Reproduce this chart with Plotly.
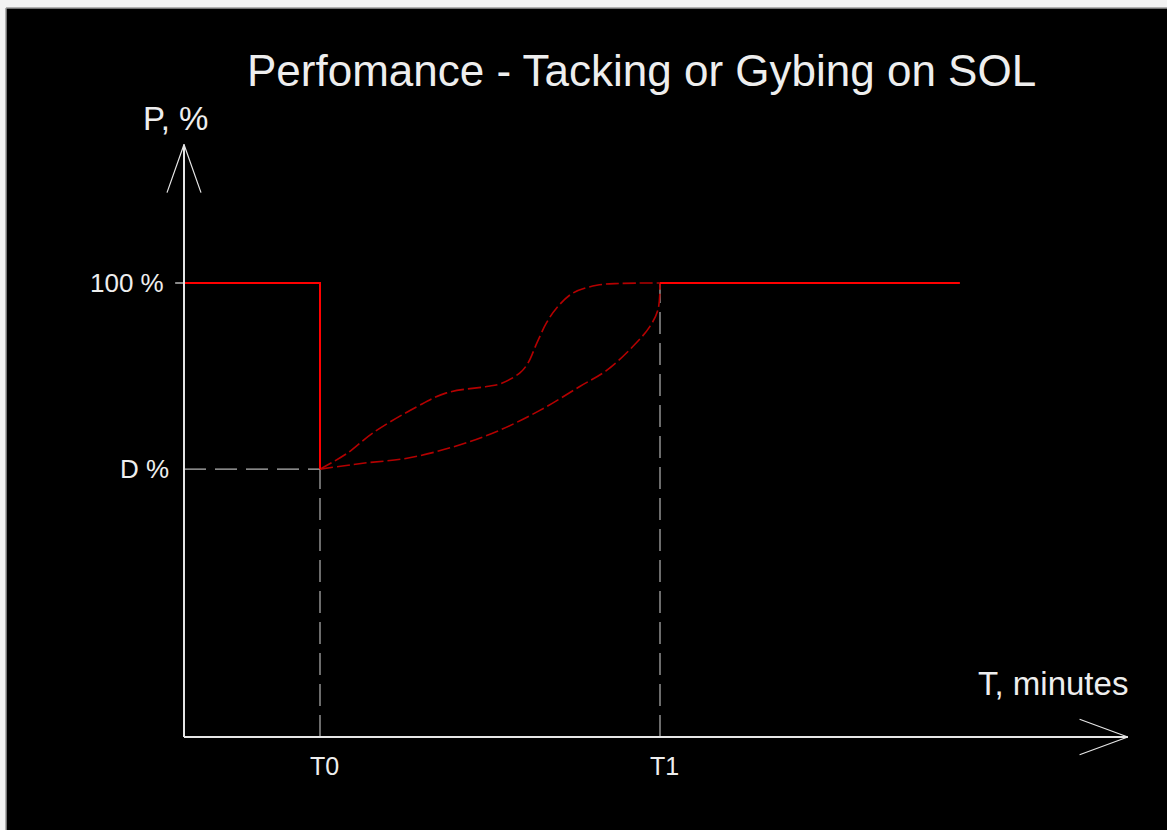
import plotly.graph_objects as go

# ---- data (time in arbitrary minute units, performance in %) ----
T0 = 2.0
T1 = 7.0
T_END = 11.41
P_FULL = 100.0
P_DROP = 59.0

step_x = [0.0, T0, T0]
step_y = [P_FULL, P_FULL, P_DROP]
full_x = [T1, T_END]
full_y = [P_FULL, P_FULL]

upper_x = [2.0, 2.4, 2.78, 3.42, 3.86, 4.45, 4.65, 4.94, 5.06, 5.19, 5.33, 5.48, 5.72, 6.07, 6.41, 7.0]
upper_y = [59, 62.5, 67, 72.7, 75.8, 77.2, 77.8, 80.2, 82.4, 86.8, 91.2, 94.5, 97.8, 99.5, 99.9, 100]

lower_x = [2.0, 2.63, 3.28, 3.96, 4.6, 5.24, 5.82, 6.22, 6.6, 6.85, 6.97, 7.0]
lower_y = [59, 60.3, 61.4, 63.9, 67.3, 72.0, 77.2, 80.8, 86.0, 90.4, 94.1, 100]

x_labels = ["T0", "T1"]
y_labels = ["100 %", "D %"]

X_AXIS_END = 13.88
Y_AXIS_END = 130.5

fig = go.Figure()

AX = "#e6e6e6"
GRAY = "#b4b4b4"

# guide dashed lines
fig.add_trace(go.Scatter(x=[0, T0], y=[P_DROP, P_DROP], mode="lines",
                         line=dict(color=GRAY, width=1.2, dash="22px,9px"), hoverinfo="skip"))
fig.add_trace(go.Scatter(x=[T0, T0], y=[0, P_DROP], mode="lines",
                         line=dict(color=GRAY, width=1.2, dash="22px,9px"), hoverinfo="skip"))
fig.add_trace(go.Scatter(x=[T1, T1], y=[0, P_FULL], mode="lines",
                         line=dict(color=GRAY, width=1.2, dash="22px,9px"), hoverinfo="skip"))

# curves
fig.add_trace(go.Scatter(x=upper_x, y=upper_y, mode="lines",
                         line=dict(color="#b40000", width=1.6, dash="13px,4px", shape="spline"),
                         hoverinfo="skip"))
fig.add_trace(go.Scatter(x=lower_x, y=lower_y, mode="lines",
                         line=dict(color="#b40000", width=1.6, dash="13px,4px", shape="spline"),
                         hoverinfo="skip"))

# solid red performance
fig.add_trace(go.Scatter(x=step_x, y=step_y, mode="lines",
                         line=dict(color="#ff0000", width=2), hoverinfo="skip"))
fig.add_trace(go.Scatter(x=full_x, y=full_y, mode="lines",
                         line=dict(color="#ff0000", width=2), hoverinfo="skip"))

# axes with arrows
fig.add_trace(go.Scatter(x=[0, 0], y=[0, Y_AXIS_END], mode="lines",
                         line=dict(color=AX, width=2), hoverinfo="skip"))
fig.add_trace(go.Scatter(x=[-0.25, 0, 0.25], y=[Y_AXIS_END - 10.6, Y_AXIS_END, Y_AXIS_END - 10.6],
                         mode="lines", line=dict(color=AX, width=1.2), hoverinfo="skip"))
fig.add_trace(go.Scatter(x=[0, X_AXIS_END], y=[0, 0], mode="lines",
                         line=dict(color=AX, width=2), hoverinfo="skip"))
fig.add_trace(go.Scatter(x=[X_AXIS_END - 0.71, X_AXIS_END, X_AXIS_END - 0.71], y=[3.9, 0, -3.9],
                         mode="lines", line=dict(color=AX, width=1.2), hoverinfo="skip"))
# tick at 100%
fig.add_trace(go.Scatter(x=[-0.13, 0], y=[P_FULL, P_FULL], mode="lines",
                         line=dict(color=AX, width=1.2), hoverinfo="skip"))

FONT = "Liberation Sans, Arial, sans-serif"
TXT = "#eeeeee"
ann = []
ann.append(dict(x=6.73, y=146.9, text="Perfomance - Tacking or Gybing on SOL", showarrow=False,
                font=dict(family=FONT, size=44, color=TXT), xanchor="center", yanchor="middle"))
ann.append(dict(x=-0.12, y=136.3, text="P, %", showarrow=False,
                font=dict(family=FONT, size=33, color=TXT), xanchor="center", yanchor="middle"))
ann.append(dict(x=12.775, y=11.7, text="T, minutes", showarrow=False,
                font=dict(family=FONT, size=33, color=TXT), xanchor="center", yanchor="middle"))
ann.append(dict(x=-0.26, y=P_FULL, text=y_labels[0], showarrow=False,
                font=dict(family=FONT, size=26, color=TXT), xanchor="right", yanchor="middle"))
ann.append(dict(x=-0.19, y=P_DROP, text=y_labels[1], showarrow=False,
                font=dict(family=FONT, size=26, color=TXT), xanchor="right", yanchor="middle"))
for xv, lab in zip([T0, T1], x_labels):
    ann.append(dict(x=xv + 0.06, y=-6.3, text=lab, showarrow=False,
                    font=dict(family=FONT, size=25, color=TXT), xanchor="center", yanchor="middle"))

W, H = 1167, 830
shapes = [
    dict(type="rect", xref="paper", yref="paper", x0=0, x1=1, y0=1 - 8 / H, y1=1,
         fillcolor="#f2f2f2", line=dict(width=0), layer="above"),
    dict(type="rect", xref="paper", yref="paper", x0=0, x1=6 / W, y0=0, y1=1,
         fillcolor="#f2f2f2", line=dict(width=0), layer="above"),
    dict(type="line", xref="paper", yref="paper", x0=6 / W, x1=1, y0=1 - 8 / H, y1=1 - 8 / H,
         line=dict(color="#9a9a9a", width=1.5), layer="above"),
    dict(type="line", xref="paper", yref="paper", x0=6 / W, x1=6 / W, y0=0, y1=1 - 8 / H,
         line=dict(color="#9a9a9a", width=1.5), layer="above"),
]

fig.update_layout(
    width=W, height=H, autosize=False,
    margin=dict(l=0, r=0, t=0, b=0, pad=0),
    paper_bgcolor="black", plot_bgcolor="black",
    showlegend=False,
    xaxis=dict(range=[-184 / 68, (W - 184) / 68], visible=False, fixedrange=True),
    yaxis=dict(range=[(737 - H) / 4.54, 737 / 4.54], visible=False, fixedrange=True),
    annotations=ann,
    shapes=shapes,
)

fig.write_html("out.html", config={"displayModeBar": False},
               post_script="document.body.style.margin='0';document.body.style.overflow='hidden';")
